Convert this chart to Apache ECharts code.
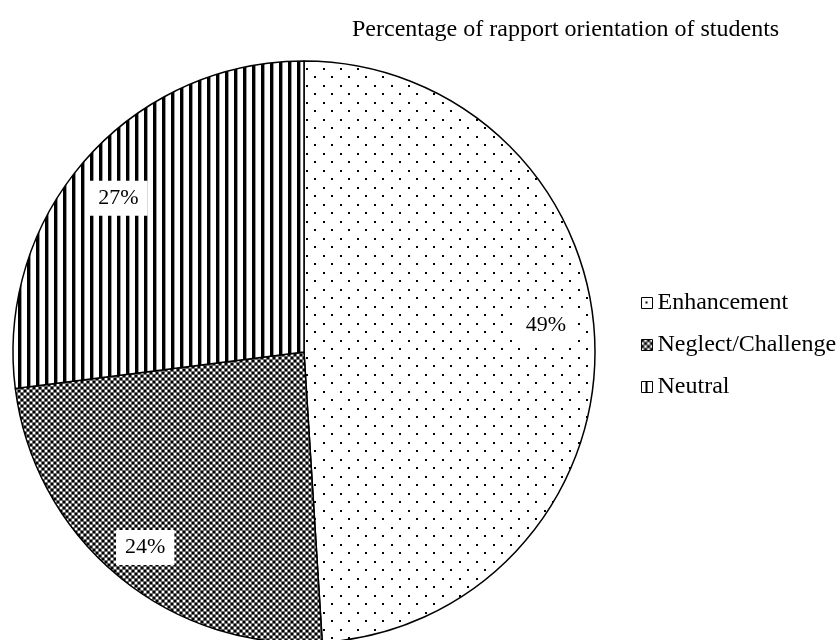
<!DOCTYPE html>
<html>
<head>
<meta charset="utf-8">
<script src="https://cdn.jsdelivr.net/npm/echarts@6/dist/echarts.min.js"></script>
<style>
  html, body { margin: 0; padding: 0; background: #fff; }
  #chart { width: 839px; height: 640px; }
</style>
</head>
<body>
<div id="chart"></div>
<script>
// Rapport orientation shares (percent)
const categories = ['Enhancement', 'Neglect/Challenge', 'Neutral'];
const shares = [49, 24, 27];
const chartTitle = 'Percentage of rapport orientation of students';

const FONT = '"Liberation Serif", "Times New Roman", serif';

// Fill patterns drawn on small canvases
function makeTile(w, h, draw) {
  const c = document.createElement('canvas');
  c.width = w; c.height = h;
  const ctx = c.getContext('2d');
  ctx.fillStyle = '#fff';
  ctx.fillRect(0, 0, w, h);
  ctx.fillStyle = '#000';
  draw(ctx);
  return c;
}

// sparse staggered dots
const dotTile = makeTile(17, 17, ctx => {
  ctx.fillRect(0, 0, 2, 2);
  ctx.fillRect(8, 8, 2, 2);
});
// fine checkerboard with soft grid seams
const checkTile = makeTile(6, 6, ctx => {
  ctx.fillRect(0, 0, 2, 2);
  ctx.fillRect(3, 3, 2, 2);
  ctx.fillStyle = '#6a6a6a';
  ctx.fillRect(2, 0, 1, 6);
  ctx.fillRect(5, 0, 1, 6);
  ctx.fillRect(0, 2, 6, 1);
  ctx.fillRect(0, 5, 6, 1);
});
// vertical bars
const barTile = makeTile(9, 9, ctx => {
  ctx.fillRect(0, 0, 3, 9);
  ctx.fillStyle = '#999';
  ctx.fillRect(3, 0, 1, 9);
});
// legend swatches
const legendDotTile = makeTile(11, 11, ctx => {
  ctx.fillRect(4, 4, 2, 2);
});
const legendBarTile = makeTile(11, 11, ctx => {
  ctx.fillRect(4, 0, 2, 11);
});

const fills = [
  { image: dotTile, repeat: 'repeat' },
  { image: checkTile, repeat: 'repeat' },
  { image: barTile, repeat: 'repeat' }
];

// small nudges so each percentage sits where the slice has room
const labelNudge = [[-4, -19], [-2, 6], [-1, 9]];

const pieData = categories.map((name, i) => ({
  name: name,
  value: shares[i],
  itemStyle: { color: fills[i] }
}));

const labelData = categories.map((name, i) => ({ name: name, value: shares[i] }));

const chart = echarts.init(document.getElementById('chart'), null, { renderer: 'canvas' });

chart.setOption({
  animation: false,
  backgroundColor: '#fff',
  title: {
    text: chartTitle,
    left: 347,
    top: 13,
    textStyle: { fontFamily: FONT, fontSize: 24, fontWeight: 'normal', color: '#000' }
  },
  legend: {
    orient: 'vertical',
    left: 636,
    top: 286,
    itemGap: 18,
    itemWidth: 11,
    itemHeight: 11,
    icon: 'rect',
    textStyle: { fontFamily: FONT, fontSize: 24, color: '#000' },
    data: [
      { name: categories[0], itemStyle: { color: { image: legendDotTile, repeat: 'no-repeat' }, borderColor: '#000', borderWidth: 1 } },
      { name: categories[1], itemStyle: { color: fills[1], borderColor: '#000', borderWidth: 1 } },
      { name: categories[2], itemStyle: { color: { image: legendBarTile, repeat: 'no-repeat' }, borderColor: '#000', borderWidth: 1 } }
    ]
  },
  series: [
    {
      type: 'pie',
      center: [304, 352],
      radius: 291,
      startAngle: 90,
      clockwise: true,
      silent: true,
      label: { show: false },
      labelLine: { show: false },
      itemStyle: { borderColor: '#000', borderWidth: 1.5 },
      data: pieData
    },
    {
      // transparent ring that carries the percentage labels
      type: 'pie',
      center: [304, 352],
      radius: [195, 291],
      startAngle: 90,
      clockwise: true,
      silent: true,
      legendHoverLink: false,
      itemStyle: { color: 'rgba(0,0,0,0)', borderWidth: 0 },
      labelLine: { show: false },
      label: {
        show: true,
        position: 'inside',
        formatter: p => p.value + '%',
        fontFamily: FONT,
        fontSize: 22,
        color: '#000',
        backgroundColor: '#fff',
        padding: [7, 9, 6, 9]
      },
      labelLayout: p => ({ dx: labelNudge[p.dataIndex][0], dy: labelNudge[p.dataIndex][1] }),
      data: labelData
    }
  ]
});
</script>
</body>
</html>
